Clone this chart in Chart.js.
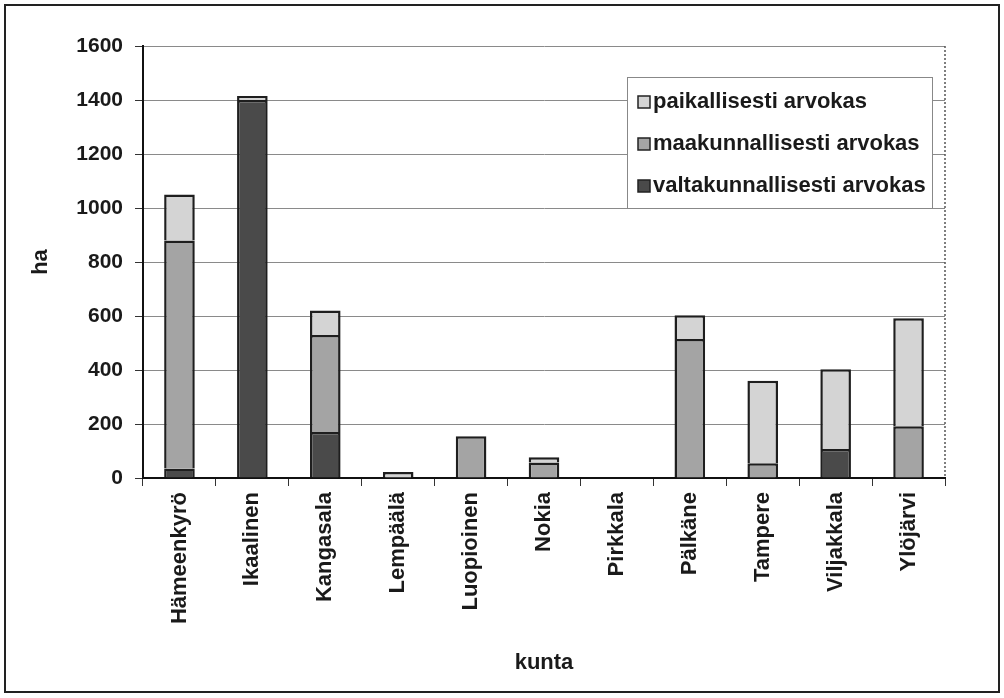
<!DOCTYPE html>
<html>
<head>
<meta charset="utf-8">
<script src="https://cdn.jsdelivr.net/npm/chart.js@4/dist/chart.umd.min.js"></script>
<style>
    body { margin: 0; background: #fff; }
    #wrap { position: relative; width: 1004px; height: 698px; }
</style>
</head>
<body>
<div id="wrap"><canvas id="chart" width="1004" height="698"></canvas></div>
<script>
    const kunnat = ['Hämeenkyrö', 'Ikaalinen', 'Kangasala', 'Lempäälä', 'Luopioinen', 'Nokia',
        'Pirkkala', 'Pälkäne', 'Tampere', 'Viljakkala', 'Ylöjärvi'];
    const valtakunnallisesti = [35, 1400, 170, 0, 0, 0, 0, 0, 0, 107, 0];
    const maakunnallisesti = [845, 0, 360, 0, 155, 57, 0, 515, 55, 0, 192];
    const paikallisesti = [170, 15, 90, 22, 0, 20, 0, 88, 305, 296, 400];
    const yTicks = [0, 200, 400, 600, 800, 1000, 1200, 1400, 1600];

    const FONT = '"Liberation Sans", Arial, sans-serif';

    // kehys + selite piirretään itse
    const frame = {
        id: 'frame',
        beforeDraw(chart) {
            const c = chart.ctx;
            c.save();
            c.fillStyle = '#fff';
            c.fillRect(0, 0, chart.width, chart.height);
            c.restore();
        },
        afterDraw(chart) {
            const c = chart.ctx;
            const a = chart.chartArea;
            c.save();
            // oikea reuna pisteviivana
            c.strokeStyle = '#555';
            c.lineWidth = 1.5;
            c.setLineDash([2, 2]);
            c.beginPath();
            c.moveTo(a.right, a.top);
            c.lineTo(a.right, a.bottom);
            c.stroke();
            c.setLineDash([]);

            c.strokeStyle = '#222';
            c.lineWidth = 2;
            c.strokeRect(5, 5, 994, 687);

            // selite
            const lx = 627, ly = 77, lw = 305, lh = 131;
            c.fillStyle = '#fff';
            c.fillRect(lx, ly, lw, lh);
            c.strokeStyle = '#888';
            c.lineWidth = 1;
            c.strokeRect(lx + 0.5, ly + 0.5, lw, lh);
            const items = [...chart.data.datasets].reverse();
            const rows = [102, 144, 186];
            c.font = 'bold 22px ' + FONT;
            c.textBaseline = 'middle';
            items.forEach((ds, i) => {
                c.fillStyle = ds.backgroundColor;
                c.fillRect(638, rows[i] - 6, 12, 12);
                c.strokeStyle = '#222';
                c.lineWidth = 1.5;
                c.strokeRect(638, rows[i] - 6, 12, 12);
                c.fillStyle = '#1a1a1a';
                c.fillText(ds.label, 653, rows[i]);
            });
            c.restore();
        }
    };

    const ctx = document.getElementById('chart').getContext('2d');

    new Chart(ctx, {
        type: 'bar',
        data: {
            labels: kunnat,
            datasets: [
                {
                    label: 'valtakunnallisesti arvokas',
                    data: valtakunnallisesti,
                    backgroundColor: '#4a4a4a',
                    borderColor: '#1e1e1e',
                    borderWidth: 2.5
                },
                {
                    label: 'maakunnallisesti arvokas',
                    data: maakunnallisesti,
                    backgroundColor: '#a4a4a4',
                    borderColor: '#1e1e1e',
                    borderWidth: 2.5
                },
                {
                    label: 'paikallisesti arvokas',
                    data: paikallisesti,
                    backgroundColor: '#d4d4d4',
                    borderColor: '#1e1e1e',
                    borderWidth: 2.5
                }
            ]
        },
        options: {
            responsive: false,
            animation: false,
            barPercentage: 0.42,
            categoryPercentage: 1,
            layout: {
                padding: { left: 28, top: 46, right: 59, bottom: 22 }
            },
            plugins: {
                legend: { display: false },
                tooltip: { enabled: false }
            },
            scales: {
                x: {
                    stacked: true,
                    afterFit: (scale) => { scale.height = 198; },
                    grid: {
                        offset: true,
                        drawOnChartArea: false,
                        color: '#333',
                        tickLength: 8
                    },
                    border: { color: '#111', width: 2 },
                    ticks: {
                        minRotation: 90,
                        maxRotation: 90,
                        color: '#1a1a1a',
                        padding: 6,
                        font: { family: FONT, size: 22, weight: 'bold' }
                    },
                    title: {
                        display: true,
                        text: 'kunta',
                        color: '#1a1a1a',
                        font: { family: FONT, size: 22, weight: 'bold' },
                        padding: 0
                    }
                },
                y: {
                    stacked: true,
                    min: 0,
                    max: 1600,
                    afterFit: (scale) => { scale.width = 115; },
                    afterBuildTicks: (scale) => {
                        scale.ticks = yTicks.map(v => ({ value: v }));
                    },
                    grid: {
                        color: '#8a8a8a',
                        lineWidth: 1,
                        tickColor: '#333',
                        tickLength: 8
                    },
                    border: { color: '#111', width: 2 },
                    ticks: {
                        color: '#1a1a1a',
                        padding: 12,
                        font: { family: FONT, size: 21, weight: 'bold' },
                        callback: (v) => String(v)
                    },
                    title: {
                        display: true,
                        text: 'ha',
                        color: '#1a1a1a',
                        font: { family: FONT, size: 22, weight: 'bold' },
                        padding: 0
                    }
                }
            }
        },
        plugins: [frame]
    });
</script>
</body>
</html>
